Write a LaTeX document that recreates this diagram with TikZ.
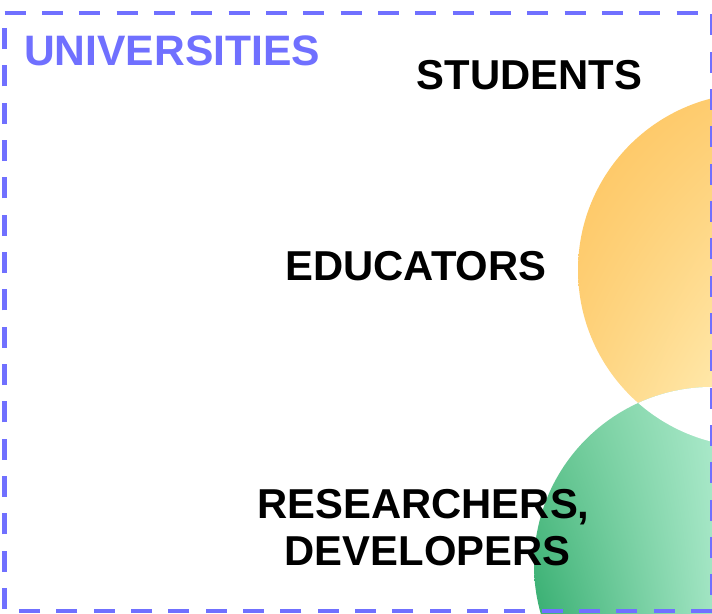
\documentclass[tikz,border=0pt]{standalone}
\usepackage{fontspec}
\setmainfont{Liberation Sans}
\usetikzlibrary{shadings,backgrounds}
\definecolor{framecolor}{RGB}{112,112,255}
\definecolor{orangedark}{RGB}{254,195,92}
\definecolor{orangemid}{RGB}{254,214,132}
\definecolor{orangelight}{RGB}{255,237,180}
\definecolor{greendark}{RGB}{56,175,114}
\definecolor{greenmid}{RGB}{108,201,149}
\definecolor{greenlight}{RGB}{170,233,202}
\newcommand{\orangeradius}{177pt}
\newcommand{\greenradius}{178pt}
\newcommand{\framewidth}{4.5pt}

\tikzset{
  grouptext/.style={anchor=base, inner sep=0pt, font=\fontsize{41.8}{48}\selectfont\bfseries},
  boxtitle/.style={anchor=base west, inner sep=0pt, text=framecolor, font=\fontsize{42.6}{48}\selectfont\bfseries},
  boxframe/.style={draw=framecolor, line width=\framewidth, dash pattern=on 21pt off 16.33pt}
}

\begin{document}
\begin{tikzpicture}[x=1pt,y=-1pt]
\clip (0,0) rectangle (712,613);
\coordinate (orangecenter) at (755,270);
\coordinate (greencenter) at (712,565);
%students / educators
\begin{scope}
\clip (orangecenter) circle (\orangeradius);
\shade[upper left=orangedark, upper right=orangedark!80!orangelight, lower left=orangemid, lower right=orangelight] (578,93) rectangle (712,447);
\end{scope}
%researchers
\begin{scope}
\clip (greencenter) circle (\greenradius);
\shade[upper left=greenmid, upper right=greenlight, lower left=greendark, lower right=greenlight!85!greenmid] (534,387) rectangle (712,613);
\end{scope}
%overlap
\begin{scope}
\clip (orangecenter) circle (\orangeradius);
\fill[white] (greencenter) circle (\greenradius);
\end{scope}
%frame
\coordinate (tl) at (4.7,12.8);
\coordinate (tr) at (712.5,12.8);
\coordinate (br) at (712.5,611);
\coordinate (bl) at (4.7,611);
\draw[boxframe] (tl) -- (tr) -- (br) -- (bl) -- cycle;
%labels
\node[boxtitle] (universities) at (24,65) {UNIVERSITIES};
\node[grouptext] (students) at (529.5,89) {STUDENTS};
\node[grouptext] (educators) at (416,280) {EDUCATORS};
\node[grouptext] (researchers) at (423.5,518) {RESEARCHERS,};
\node[grouptext] (developers) at (427.5,565) {DEVELOPERS};
\end{tikzpicture}
\end{document}
